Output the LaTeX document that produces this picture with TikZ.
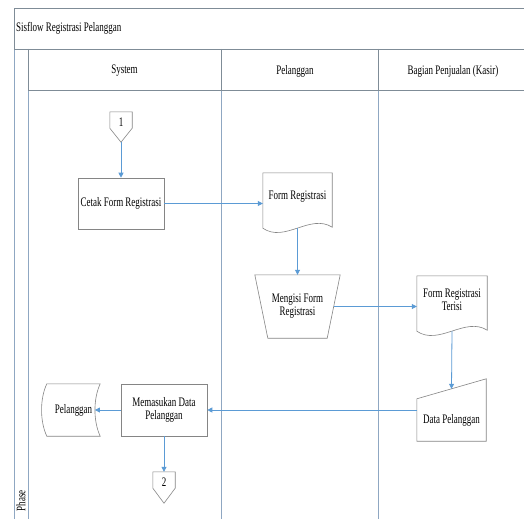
\documentclass[tikz,border=0pt]{standalone}
\usepackage{fontspec}
\setmainfont{Liberation Serif}[FakeStretch=0.69]
\usetikzlibrary{calc,arrows.meta}
\definecolor{framec}{HTML}{7F8C97}
\definecolor{lanec}{HTML}{8FA7C2}
\definecolor{arrowc}{HTML}{5B9BD5}
\definecolor{shapec}{HTML}{858585}
\begin{document}
\begin{tikzpicture}[x=1pt,y=-1pt,
  every node/.style={font=\fontsize{13}{13}\selectfont, inner sep=1pt},
  framel/.style={draw=framec, line width=0.7pt},
  lanel/.style={draw=lanec, line width=0.8pt},
  outl/.style={draw=shapec, line width=0.6pt, fill=white},
  holder/.style={inner sep=1pt, align=center},
  flow/.style={draw=arrowc, line width=0.8pt, -{Triangle[length=5pt,width=5pt]}},
  ]
\useasboundingbox (0,0) rectangle (524,519);
\clip (0,0) rectangle (524,519);
\fill[white] (0,0) rectangle (524,519);

% frame
\draw[lanel] (14,49) -- (14,519);
\draw[lanel] (28,90) -- (28,519);
\draw[lanel] (221,90) -- (221,519);
\draw[lanel] (378,90) -- (378,519);
\draw[framel] (524,8) -- (14,8) -- (14,49);
\draw[framel] (14,49) -- (524,49);
\draw[framel] (28,49) -- (28,90);
\draw[framel] (221,49) -- (221,90);
\draw[framel] (378,49) -- (378,90);
\draw[framel] (28,90) -- (524,90);

% texts of the frame
\node[anchor=west] (ttl) at (15,28) {Sisflow Registrasi Pelanggan};
\node (hsys) at (124.5,71) {System};
\node (hpel) at (295,71) {Pelanggan};
\node (hkas) at (453,71) {Bagian Penjualan (Kasir)};
\node[rotate=90, anchor=east] (ph) at (21,489) {Phase};

% nodes
\node[holder, minimum width=22pt, minimum height=16pt] (c1) at (121,120) {};
\draw[outl] (c1.north west) -- (c1.north east) -- (c1.south east) -- ($(c1.south)+(0,14)$) -- (c1.south west) -- cycle;
\node at ($(c1)+(0,2)$) {1};

\node[holder, outl, minimum width=86pt, minimum height=51pt] (cetak) at (121,203.5) {Cetak Form Registrasi};

\node[holder, minimum width=69pt, minimum height=48pt] (doc1) at (297.5,197) {};
\draw[outl] (doc1.north west) -- (doc1.north east) -- ($(doc1.south east)+(0,6)$)
  .. controls ($(doc1.south east)+(-22,-8)$) and ($(doc1.south west)+(22,22)$) .. ($(doc1.south west)+(0,7)$) -- cycle;
\node at (doc1) {Form Registrasi};

\node[holder, minimum width=85pt, minimum height=63pt] (meng) at (297.5,306.5) {};
\draw[outl] (meng.north west) -- (meng.north east) -- ($(meng.south east)+(-13,0)$) -- ($(meng.south west)+(13,0)$) -- cycle;
\node[align=center] at (meng) {Mengisi Form\\Registrasi};

\node[holder, minimum width=70pt, minimum height=48pt] (doc2) at (452,300) {};
\draw[outl] (doc2.north west) -- (doc2.north east) -- ($(doc2.south east)+(0,6)$)
  .. controls ($(doc2.south east)+(-22,-8)$) and ($(doc2.south west)+(22,22)$) .. ($(doc2.south west)+(0,7)$) -- cycle;
\node[align=center] at (doc2) {Form Registrasi\\Terisi};

\node[holder, minimum width=69pt, minimum height=42pt] (dp) at (451.5,420) {};
\draw[outl] (dp.south west) -- (dp.north west) -- ($(dp.north east)+(0,-20)$) -- (dp.south east) -- cycle;
\node at (dp) {Data Pelanggan};

\node[holder, outl, minimum width=86pt, minimum height=52pt] (mem) at (164,410) {Memasukan Data\\Pelanggan};

\node[holder, minimum width=53pt, minimum height=52pt] (store) at (73.5,410) {};
\draw[outl] (store.north west) -- (store.north east)
  .. controls ($(store.north east)+(-7,15)$) and ($(store.south east)+(-7,-15)$) .. (store.south east)
  -- (store.south west)
  .. controls ($(store.south west)+(-7,-15)$) and ($(store.north west)+(-7,15)$) .. (store.north west) -- cycle;
\node at (store) {Pelanggan};

\node[holder, minimum width=22pt, minimum height=16pt] (c2) at (164,480) {};
\draw[outl] (c2.north west) -- (c2.north east) -- (c2.south east) -- ($(c2.south)+(0,15)$) -- (c2.south west) -- cycle;
\node at ($(c2)+(0,2)$) {2};

% connectors
\draw[flow] ($(c1.south)+(0,14)$) -- (cetak.north);
\draw[flow] (cetak.east) -- (doc1.west |- cetak.east);
\draw[flow] ($(doc1.south)+(0,7)$) -- (meng.north);
\draw[flow] ($(meng.east)+(-6.5,0)$) -- (doc2.west |- meng.east);
\draw[flow] ($(doc2.south)+(0,7)$) -- ($(dp.north)+(0,-10)$);
\draw[flow] (dp.west |- mem.east) -- (mem.east);
\draw[flow] (mem.west) -- ($(store.east)+(-5.25,0)$);
\draw[flow] (mem.south) -- (c2.north);
\end{tikzpicture}
\end{document}
